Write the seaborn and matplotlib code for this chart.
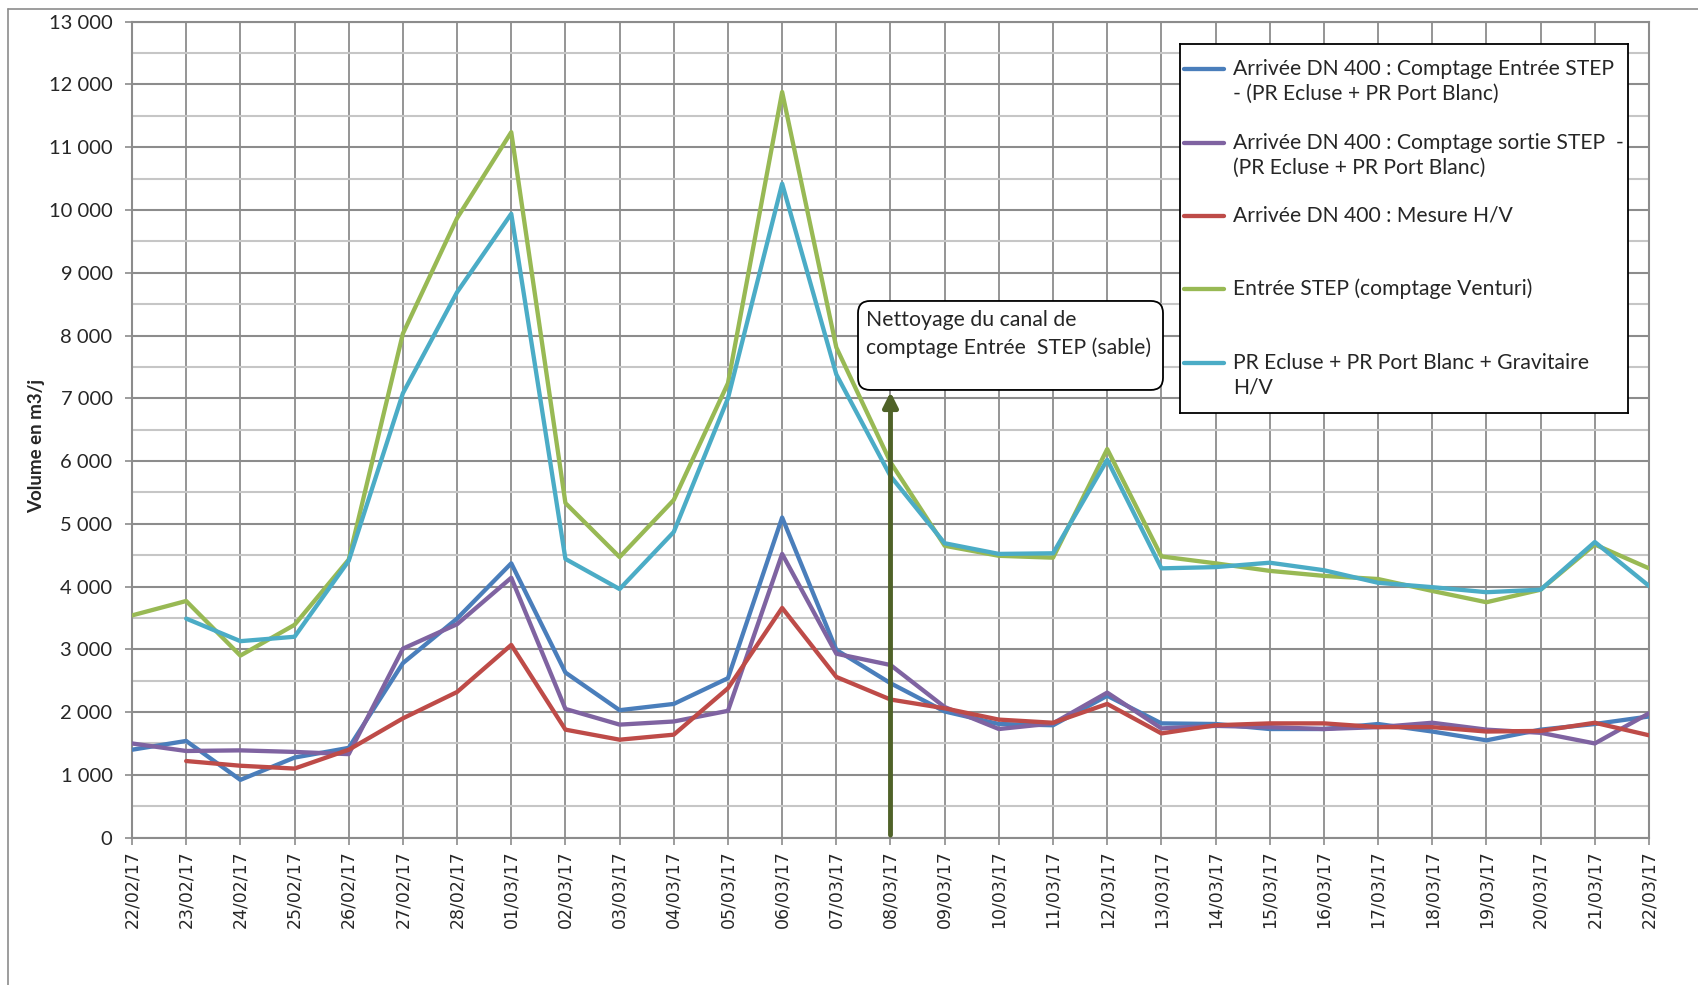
import numpy as np
import pandas as pd
import matplotlib
matplotlib.use("Agg")
import matplotlib.pyplot as plt
import seaborn as sns
from matplotlib.lines import Line2D
from matplotlib.patches import FancyBboxPatch
from matplotlib.ticker import MultipleLocator, FuncFormatter, FixedLocator

# ---- data -------------------------------------------------------------
dates = ["22/02/17", "23/02/17", "24/02/17", "25/02/17", "26/02/17", "27/02/17",
         "28/02/17", "01/03/17", "02/03/17", "03/03/17", "04/03/17", "05/03/17",
         "06/03/17", "07/03/17", "08/03/17", "09/03/17", "10/03/17", "11/03/17",
         "12/03/17", "13/03/17", "14/03/17", "15/03/17", "16/03/17", "17/03/17",
         "18/03/17", "19/03/17", "20/03/17", "21/03/17", "22/03/17"]

comptage_entree = [1400, 1540, 920, 1275, 1430, 2780, 3490,
                   4370, 2630, 2030, 2130, 2540, 5100, 2990, 2460, 2010, 1810, 1790, 2260,
                   1820, 1810, 1730, 1730, 1810, 1690, 1550, 1720, 1810, 1930]
comptage_sortie = [1500, 1380, 1390, 1365, 1330, 3010, 3400,
                   4140, 2050, 1800, 1850, 2020, 4520, 2930, 2750, 2080, 1730, 1820, 2310,
                   1740, 1780, 1760, 1730, 1760, 1830, 1720, 1670, 1500, 1980]
mesure_hv = [np.nan, 1220, 1145, 1100, 1400, 1900, 2320,
             3070, 1720, 1560, 1640, 2380, 3660, 2560, 2200, 2060, 1880, 1830, 2130,
             1660, 1790, 1820, 1820, 1760, 1760, 1690, 1700, 1830, 1630]
venturi = [3540, 3770, 2900, 3390, 4430, 8030, 9870,
           11240, 5330, 4470, 5380, 7240, 11880, 7810, 5980, 4650, 4490, 4460, 6190,
           4480, 4370, 4250, 4170, 4120, 3930, 3750, 3950, 4670, 4290]
pr_gravitaire = [np.nan, 3490, 3130, 3200, 4410, 7080, 8690,
                 9940, 4440, 3960, 4870, 7000, 10420, 7380, 5760, 4690, 4520, 4530, 6020,
                 4290, 4310, 4380, 4260, 4060, 3990, 3910, 3950, 4710, 4010]

labels = [
    "Arrivée DN 400 : Comptage Entrée STEP\n- (PR Ecluse + PR Port Blanc)",
    "Arrivée DN 400 : Comptage sortie STEP  -\n(PR Ecluse + PR Port Blanc)",
    "Arrivée DN 400 : Mesure H/V",
    "Entrée STEP (comptage Venturi)",
    "PR Ecluse + PR Port Blanc + Gravitaire\nH/V",
]
colors = ["#4A7EBB", "#7F63A1", "#BE4B48", "#98B954", "#4BACC6"]
series = [comptage_entree, comptage_sortie, mesure_hv, venturi, pr_gravitaire]

annotation_date = "08/03/17"
annotation_text = "Nettoyage du canal de\ncomptage Entrée  STEP (sable)"

# ---- style ------------------------------------------------------------
sns.set_style("white")
plt.rcParams["font.family"] = ["Lato", "DejaVu Sans"]

W, H = 1699, 985
fig = plt.figure(figsize=(W / 100, H / 100), dpi=100)
ax = fig.add_axes([132 / W, 1 - 837.6 / H, (1649 - 132) / W, (837.6 - 21.7) / H])

x = np.arange(len(dates))
for vals, col in zip(series, colors):
    df = pd.DataFrame({"x": x, "y": vals}).dropna()
    sns.lineplot(data=df, x="x", y="y", color=col, lw=3.1, ax=ax,
                 legend=False, sort=False, zorder=3)

ax.set_xlim(0, len(dates) - 1)
ax.set_ylim(0, 13000)

grid_major = "#8c8c8c"
grid_minor = "#c6c6c6"
ax.yaxis.set_major_locator(MultipleLocator(1000))
ax.yaxis.set_minor_locator(MultipleLocator(500))
ax.yaxis.set_major_formatter(FuncFormatter(lambda v, p: f"{int(v):,}".replace(",", " ")))
ax.xaxis.set_major_locator(FixedLocator(x))
ax.set_xticklabels(dates, rotation=90, family="DejaVu Sans", fontsize=12.5)
ax.tick_params(axis="y", which="major", labelsize=14.5, length=5, width=1.2,
               color=grid_major, pad=9, direction="out", left=True)
ax.tick_params(axis="y", which="minor", length=0)
ax.tick_params(axis="x", which="major", length=5, width=1.2, color=grid_major,
               pad=4, direction="out", bottom=True)
ax.grid(True, axis="y", which="major", color=grid_major, lw=1.5, zorder=0)
ax.grid(True, axis="y", which="minor", color=grid_minor, lw=1.5, zorder=0)
ax.grid(True, axis="x", which="major", color=grid_major, lw=1.3, zorder=0)
ax.set_axisbelow(True)
for s in ax.spines.values():
    s.set_color(grid_major)
    s.set_linewidth(1.5)
ax.set_xlabel("")
ax.set_ylabel("")

fig.text(37 / W, 1 - 446 / H, "Volume en m3/j", rotation=90, fontsize=13.5,
         fontweight="bold", ha="center", va="center")

# ---- annotation: arrow and rounded callout ----------------------------
xi = dates.index(annotation_date)
ax.annotate("", xy=(xi, 7100), xytext=(xi, 40),
            arrowprops=dict(arrowstyle="-|>", color="#4F6228", lw=3.5,
                            mutation_scale=22, shrinkA=0, shrinkB=0),
            zorder=5)

aw, ah = 1517, 816
bx0, bx1 = (858 - 132) / aw, (1163 - 132) / aw
by1, by0 = 1 - (301 - 21.7) / ah, 1 - (390 - 21.7) / ah
box = FancyBboxPatch((bx0, by0), bx1 - bx0, by1 - by0,
                     boxstyle="round,pad=0,rounding_size=0.008",
                     mutation_aspect=aw / ah, transform=ax.transAxes,
                     facecolor="white", edgecolor="black", lw=1.3, zorder=6,
                     clip_on=False)
ax.add_patch(box)
for k, line in enumerate(annotation_text.split("\n")):
    ax.text((866 - 132) / aw, 1 - (320 + 28 * k - 21.7) / ah, line,
            transform=ax.transAxes, fontsize=15.3, ha="left", va="center", zorder=7)

# ---- legend box -------------------------------------------------------
lx0, ly0, lw_, lh = 1180, 44, 448, 369
lax = fig.add_axes([lx0 / W, 1 - (ly0 + lh) / H, lw_ / W, lh / H])
lax.set_xlim(0, lw_)
lax.set_ylim(lh, 0)
lax.set_xticks([])
lax.set_yticks([])
lax.set_facecolor("white")
for s in lax.spines.values():
    s.set_color("black")
    s.set_linewidth(1.3)
entry_y = [25, 99, 172, 245, 319]
for lab, col, yy in zip(labels, colors, entry_y):
    lax.add_line(Line2D([4, 44], [yy, yy], color=col, lw=3.1, solid_capstyle="round"))
    for k, line in enumerate(lab.split("\n")):
        lax.text(53, yy + 25 * k, line, fontsize=15.2, ha="left", va="center")

# ---- outer chart frame ------------------------------------------------
fy = 1 - 9 / H
fx = 8 / W
fig.add_artist(Line2D([fx, fx], [0, fy], color="#8c8c8c", lw=1.2))
fig.add_artist(Line2D([fx, 1], [fy, fy], color="#8c8c8c", lw=1.2))

fig.savefig("out.png", dpi=100, facecolor="white")
